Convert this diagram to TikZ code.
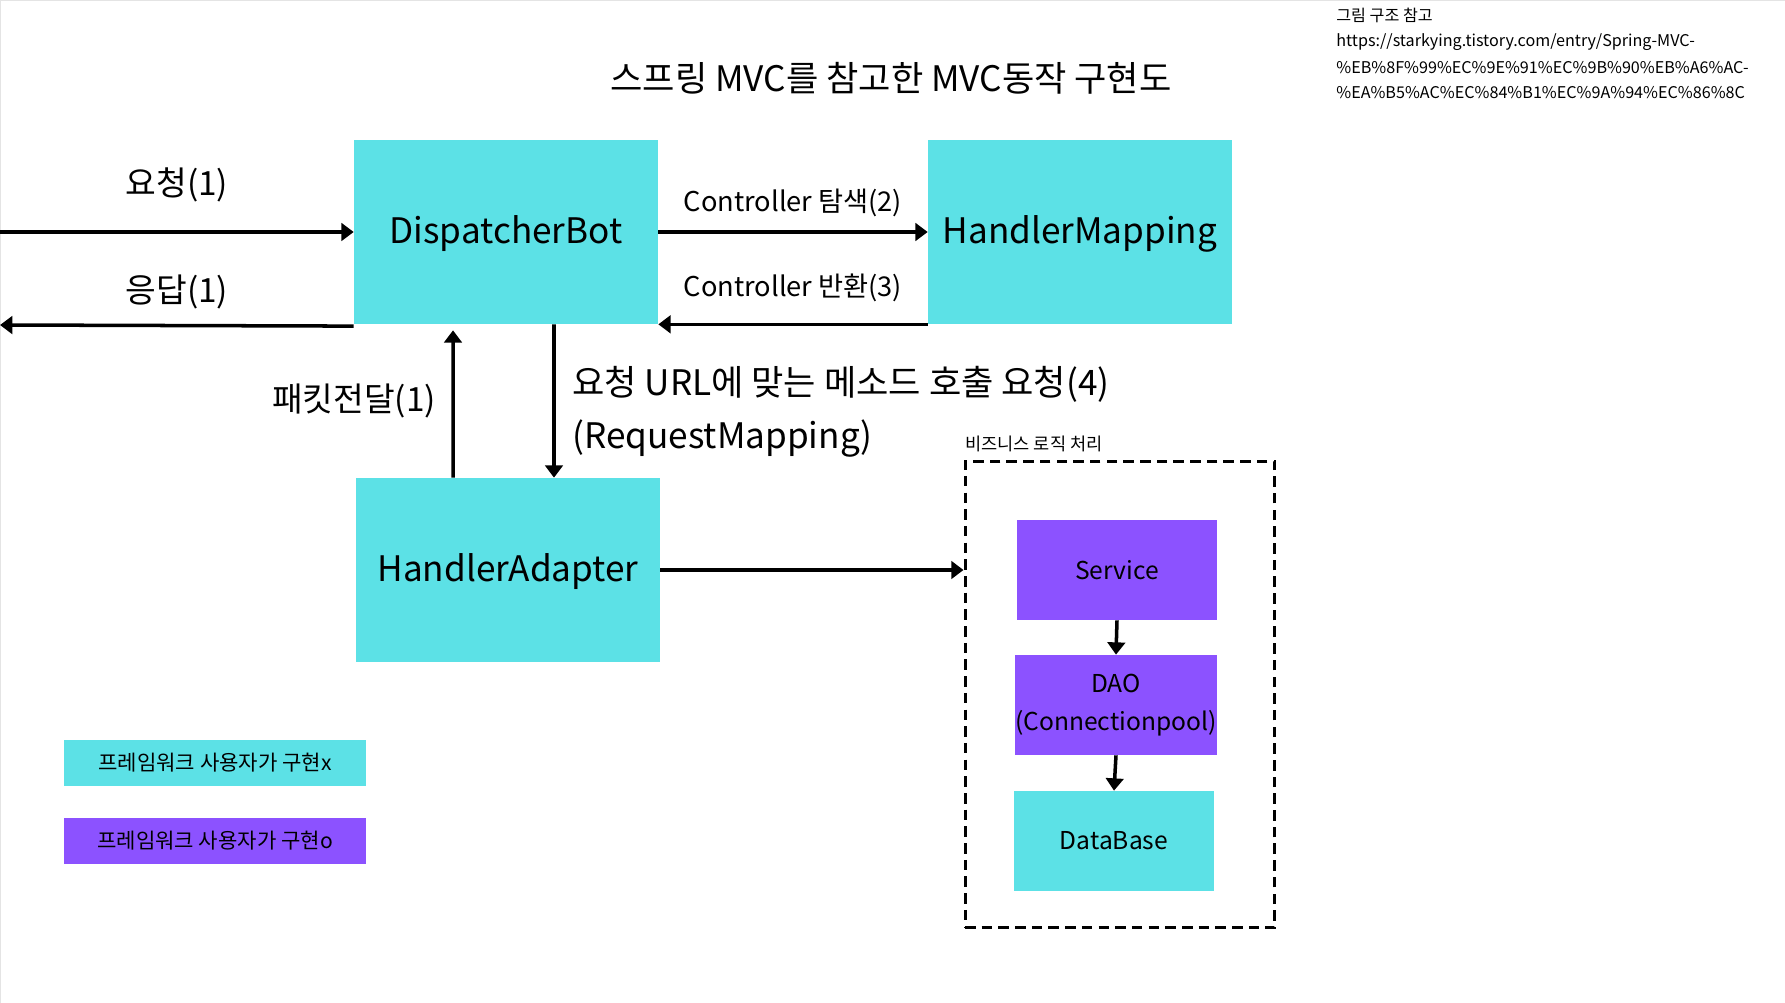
\documentclass[tikz,border=0pt]{standalone}
\usepackage{fontspec}
\setmainfont{Noto Sans CJK KR}
\usepackage{tikz}
\usetikzlibrary{positioning, arrows.meta, calc}
\definecolor{mCyan}{HTML}{5CE1E6}
\definecolor{mPurple}{HTML}{8C52FF}
\definecolor{mEdge}{HTML}{E4E4E4}
\tikzset{
  mvcBox/.style={fill=mCyan, minimum width=6.08cm, minimum height=3.68cm, inner sep=0pt, text height=17.5pt, text depth=4pt, font=\fontsize{20}{22}\selectfont},
  bizBox/.style={minimum width=4.02cm, minimum height=2cm, inner sep=0pt, align=center, font=\fontsize{14}{22}\selectfont},
  keyBox/.style={minimum width=6.06cm, minimum height=0.92cm, inner sep=0pt, font=\fontsize{12}{14}\selectfont},
  flow/.style={line width=2pt, -{Triangle[length=7pt,width=10pt]}},
  bigLbl/.style={font=\fontsize{19}{22}\selectfont},
  midLbl/.style={font=\fontsize{15.5}{18}\selectfont},
  refLbl/.style={anchor=west, inner sep=0pt, font=\fontsize{9.2}{12}\selectfont}
}

\begin{document}
\begin{tikzpicture}[x=0.02cm, y=-0.02cm]
  \useasboundingbox (0,0) rectangle (1785,1003);
  \draw[mEdge, fill=white] (0,0) rectangle (1785,1003);

  \node[font=\fontsize{20}{24}\selectfont] (title) at (891,78) {스프링 MVC를 참고한 MVC동작 구현도};

  \node[refLbl] (refHead) at (1336,15) {그림 구조 참고};
  \node[refLbl] (refUrlA) at (1336,42) {https://starkying.tistory.com/entry/Spring-MVC-};
  \node[refLbl] (refUrlB) at (1336,68) {\%EB\%8F\%99\%EC\%9E\%91\%EC\%9B\%90\%EB\%A6\%AC-};
  \node[refLbl] (refUrlC) at (1336,93) {\%EA\%B5\%AC\%EC\%84\%B1\%EC\%9A\%94\%EC\%86\%8C};

  \node[mvcBox] (dispatch) at (506,232) {DispatcherBot};
  \node[mvcBox] (mapping) at (1080,232) {HandlerMapping};
  \node[mvcBox] (adapter) at (508,570) {HandlerAdapter};

  \coordinate (reqIn) at (0,232);
  \coordinate (resOut) at (0,325);
  \draw[flow] (reqIn) -- (dispatch.west);
  \draw[flow] ([yshift=-1pt]dispatch.south west) -- (resOut);
  \node[bigLbl] (reqLbl) at (177,185) {요청(1)};
  \node[bigLbl] (resLbl) at (177,292) {응답(1)};

  \draw[flow] (dispatch.east) -- (mapping.west);
  \draw[flow] (mapping.south west) -- (dispatch.south east);
  \node[midLbl] (findLbl) at (793,203) {Controller 탐색(2)};
  \node[midLbl] (backLbl) at (793,288) {Controller 반환(3)};

  \draw[flow] ([xshift=0.96cm]dispatch.south) -- ([xshift=0.92cm]adapter.north);
  \draw[flow] ([xshift=-1.1cm]adapter.north) -- ([xshift=-1.06cm, yshift=-0.12cm]dispatch.south);
  \node[bigLbl] (pktLbl) at (354,401) {패킷전달(1)};
  \node[anchor=west, font=\fontsize{20}{24}\selectfont] (callLbl) at (566,384) {요청 URL에 맞는 메소드 호출 요청(4)};
  \node[anchor=west, font=\fontsize{20}{24}\selectfont] (mapLbl) at (566,439) {(RequestMapping)};

  \node[draw, line width=1.7pt, dash pattern=on 6pt off 3.5pt, minimum width=6.2cm, minimum height=9.34cm] (biz) at (1120,694.5) {};
  \node[anchor=west, inner sep=0pt, font=\fontsize{10}{12}\selectfont] (bizLbl) at (965,444) {비즈니스 로직 처리};
  \node[bizBox, fill=mPurple] (service) at (1117,570) {Service};
  \node[bizBox, fill=mPurple] (dao) at (1116,705) {DAO\\(Connectionpool)};
  \node[bizBox, fill=mCyan] (db) at (1114,841) {DataBase};
  \draw[flow] (adapter.east) -- (adapter.east -| biz.west);
  \draw[flow] (service.south) -- (dao.north);
  \draw[flow] (dao.south) -- (db.north);

  \node[keyBox, fill=mCyan] (keyFw) at (215,763) {프레임워크 사용자가 구현x};
  \node[keyBox, fill=mPurple] (keyUser) at (215,841) {프레임워크 사용자가 구현o};
\end{tikzpicture}
\end{document}
